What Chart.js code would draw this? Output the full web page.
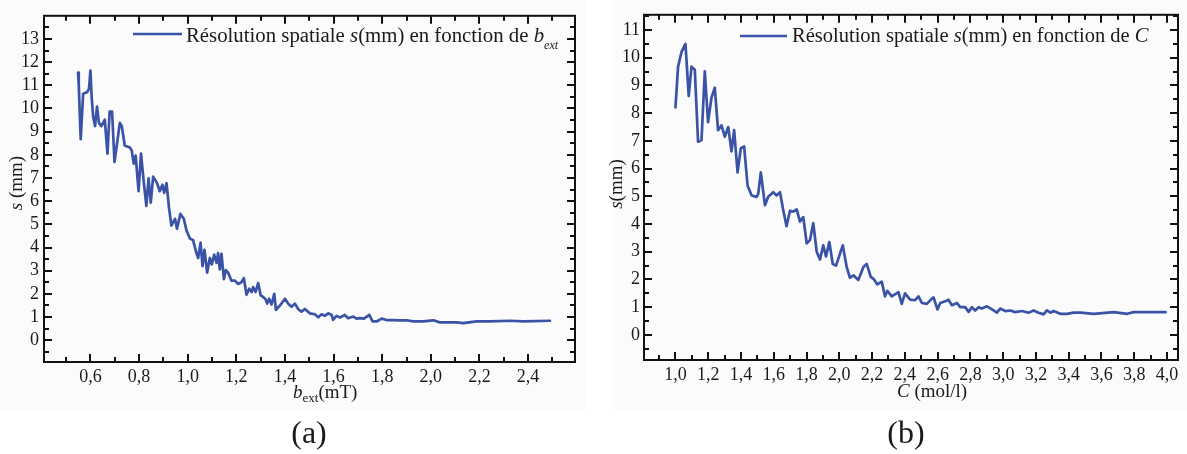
<!DOCTYPE html>
<html><head><meta charset="utf-8">
<script src="https://cdn.jsdelivr.net/npm/chart.js@4.4.0/dist/chart.umd.min.js"></script>
<style>
html,body{margin:0;padding:0;background:#fff;width:1187px;height:454px;overflow:hidden;}
.panel{position:absolute;top:0;}
#pa{left:0;width:590px;height:454px;}
#pb{left:590px;width:597px;height:454px;}
.bg{position:absolute;background:#fbfbfb;}
</style></head><body>
<div class="bg" style="left:0;top:0;width:585px;height:410px"></div>
<div class="bg" style="left:612px;top:0;width:575px;height:410px"></div>
<div class="panel" id="pa"><canvas id="ca" width="590" height="454"></canvas></div>
<div class="panel" id="pb"><canvas id="cb" width="597" height="454"></canvas></div>
<script>
// ---- data (a): s(mm) vs b_ext (mT)
const bext = [0.549,0.552,0.556,0.560,0.570,0.586,0.594,0.600,0.605,0.611,
0.619,0.627,0.635,0.645,0.659,0.670,0.679,0.689,0.699,0.721,
0.729,0.741,0.762,0.770,0.778,0.786,0.798,0.808,0.819,0.830,
0.839,0.848,0.858,0.874,0.885,0.896,0.903,0.913,0.923,0.933,
0.948,0.956,0.970,0.984,0.995,1.009,1.022,1.036,1.043,1.053,
1.061,1.069,1.080,1.091,1.099,1.109,1.119,1.125,1.132,1.139,
1.149,1.157,1.166,1.180,1.194,1.207,1.221,1.231,1.242,1.253,
1.263,1.269,1.279,1.290,1.300,1.310,1.320,1.327,1.335,1.345,
1.356,1.363,1.379,1.400,1.413,1.427,1.441,1.454,1.468,1.482,
1.502,1.523,1.537,1.551,1.564,1.578,1.592,1.598,1.612,1.626,
1.646,1.660,1.681,1.695,1.708,1.725,1.747,1.760,1.777,1.798,
1.818,1.844,1.873,1.900,1.928,1.969,2.010,2.037,2.106,2.133,
2.188,2.243,2.326,2.380,2.490];
const sA = [11.55,11.0,9.8,8.68,10.64,10.7,10.85,11.63,10.5,9.66,
9.24,10.08,9.38,9.24,9.52,8.05,9.87,9.87,7.69,9.38,
9.24,8.4,8.32,8.18,7.62,7.97,6.43,8.05,6.85,5.8,
6.99,5.94,7.06,6.78,6.43,6.71,6.36,6.78,5.73,4.95,
5.24,4.81,5.45,5.24,4.74,4.39,4.32,3.76,3.55,4.21,
3.2,3.9,2.92,3.55,3.27,3.69,3.34,3.76,3.06,3.73,
2.64,3.03,2.92,2.57,2.57,2.43,2.5,2.68,1.96,2.22,
2.08,2.29,2.08,2.47,1.94,1.87,1.77,1.58,1.79,1.54,
2.0,1.31,1.49,1.79,1.58,1.44,1.58,1.35,1.23,1.35,
1.16,1.12,0.99,1.12,1.05,1.16,1.09,0.88,1.05,0.98,
1.09,0.95,1.02,0.93,0.95,0.93,1.09,0.81,0.81,0.93,
0.87,0.87,0.86,0.86,0.81,0.81,0.86,0.77,0.77,0.74,
0.81,0.81,0.84,0.81,0.84];
// ---- data (b): s(mm) vs C (mol/l)
const conc = [1.000,1.016,1.037,1.061,1.081,1.098,1.118,1.138,1.159,1.179,
1.199,1.220,1.240,1.260,1.281,1.301,1.322,1.342,1.358,1.379,
1.399,1.419,1.440,1.465,1.495,1.505,1.521,1.546,1.566,1.597,
1.617,1.638,1.658,1.678,1.699,1.719,1.740,1.760,1.780,1.801,
1.821,1.841,1.862,1.882,1.902,1.919,1.939,1.960,1.980,2.021,
2.045,2.065,2.086,2.116,2.147,2.167,2.192,2.212,2.232,2.259,
2.279,2.293,2.320,2.361,2.381,2.401,2.432,2.463,2.483,2.504,
2.534,2.565,2.575,2.599,2.616,2.646,2.666,2.687,2.718,2.738,
2.768,2.789,2.809,2.829,2.850,2.870,2.901,2.932,2.962,2.982,
3.013,3.043,3.074,3.115,3.155,3.186,3.216,3.247,3.267,3.288,
3.308,3.349,3.390,3.430,3.471,3.553,3.675,3.757,3.797,3.879,
3.991];
const sB = [8.21,9.68,10.21,10.5,8.62,9.68,9.57,6.97,7.03,9.51,
7.68,8.56,8.92,7.39,7.56,7.15,7.5,6.62,7.39,5.86,
6.74,6.8,5.39,5.03,4.98,5.09,5.86,4.68,4.98,5.15,
5.03,5.15,4.5,3.92,4.48,4.45,4.53,4.09,4.25,3.3,
3.42,4.03,3.0,2.72,3.23,2.83,3.35,2.56,2.5,3.23,
2.45,2.06,2.15,1.98,2.45,2.56,2.09,2.0,1.82,1.92,
1.39,1.59,1.39,1.54,1.12,1.5,1.27,1.25,1.39,1.15,
1.12,1.31,1.35,0.92,1.15,1.21,1.27,1.07,1.15,1.0,
1.0,0.83,1.0,0.88,1.0,0.95,1.03,0.92,0.8,0.95,
0.86,0.88,0.82,0.86,0.8,0.88,0.8,0.74,0.88,0.8,
0.86,0.76,0.76,0.8,0.8,0.76,0.82,0.76,0.82,0.82,
0.82];
// ---- tick labels
const xTicksA = [0.6,0.8,1.0,1.2,1.4,1.6,1.8,2.0,2.2,2.4];
const yTicksA = [0,1,2,3,4,5,6,7,8,9,10,11,12,13];
const xTicksB = [1.0,1.2,1.4,1.6,1.8,2.0,2.2,2.4,2.6,2.8,3.0,3.2,3.4,3.6,3.8,4.0];
const yTicksB = [0,1,2,3,4,5,6,7,8,9,10,11];

const SERIF = '"Liberation Serif","Times New Roman",serif';
const TXT = '#1a1a1a';
const BLUE = '#3a53a6';

function fontOf(p){ return (p.i ? 'italic ' : '') + (p.s || 19) + 'px ' + SERIF; }
function rich(ctx, parts, x, y, align){
  let w = 0;
  parts.forEach(p => { ctx.font = fontOf(p); w += ctx.measureText(p.t).width; });
  let cx = align === 'center' ? x - w/2 : x;
  parts.forEach(p => { ctx.font = fontOf(p); ctx.fillText(p.t, cx, y + (p.dy || 0)); cx += ctx.measureText(p.t).width; });
}

function decor(cfg){
  return {
    id: 'decor' + cfg.id,
    afterDraw(chart){
      const ctx = chart.ctx, a = chart.chartArea, xs = chart.scales.x, ys = chart.scales.y;
      ctx.save();
      ctx.strokeStyle = '#111'; ctx.lineWidth = 2; ctx.lineCap = 'butt';
      ctx.strokeRect(a.left, a.top, a.right - a.left, a.bottom - a.top);
      const tickSet = (scale, majors, horiz) => {
        const half = (majors[1] - majors[0]) / 2;
        for (let i = -4; i <= majors.length * 2 + 4; i++){
          const v = majors[0] + i * half;
          if (v < scale.min + 1e-6 || v > scale.max - 1e-6) continue;
          const major = (i % 2 === 0);
          const len = major ? 8 : 5;
          const p = Math.round(scale.getPixelForValue(v));
          ctx.beginPath();
          if (horiz){
            ctx.moveTo(p, a.bottom); ctx.lineTo(p, a.bottom - len);
            ctx.moveTo(p, a.top); ctx.lineTo(p, a.top + len);
          } else {
            ctx.moveTo(a.left, p); ctx.lineTo(a.left + len, p);
            ctx.moveTo(a.right, p); ctx.lineTo(a.right - len, p);
          }
          ctx.stroke();
        }
      };
      tickSet(xs, cfg.xt, true);
      tickSet(ys, cfg.yt, false);
      // legend
      ctx.strokeStyle = BLUE; ctx.lineWidth = 2.6;
      ctx.beginPath(); ctx.moveTo(cfg.leg[0], cfg.leg[2]); ctx.lineTo(cfg.leg[1], cfg.leg[2]); ctx.stroke();
      ctx.fillStyle = TXT; ctx.textBaseline = 'alphabetic'; ctx.textAlign = 'left';
      rich(ctx, cfg.legParts, cfg.legText[0], cfg.legText[1], 'left');
      // x title
      rich(ctx, cfg.xTitle, cfg.xTitlePos[0], cfg.xTitlePos[1], 'left');
      // y title
      ctx.save();
      ctx.translate(cfg.yTitlePos[0], cfg.yTitlePos[1]);
      ctx.rotate(-Math.PI/2);
      rich(ctx, cfg.yTitle, 0, 0, 'center');
      ctx.restore();
      // caption
      rich(ctx, [{t: cfg.caption, s: 32}], cfg.capPos[0], cfg.capPos[1], 'center');
      ctx.restore();
    }
  };
}

function makeChart(el, xs, ys, label, o){
  return new Chart(document.getElementById(el), {
    type: 'line',
    data: { datasets: [{ label: label, data: xs.map((v, i) => ({x: v, y: ys[i]})),
      borderColor: BLUE, borderWidth: 2.7, pointRadius: 0, tension: 0, fill: false,
      borderJoinStyle: 'round', borderCapStyle: 'round' }] },
    options: {
      responsive: false, animation: false, devicePixelRatio: 1,
      layout: { padding: o.pad },
      plugins: { legend: { display: false }, tooltip: { enabled: false } },
      scales: {
        x: { type: 'linear', min: o.xmin, max: o.xmax,
          grid: { display: false, drawTicks: false }, border: { display: false },
          afterBuildTicks: s => { s.ticks = o.xt.map(v => ({value: v})); },
          afterFit: s => { s.height = 40; },
          ticks: { autoSkip: false, maxRotation: 0, padding: 4, color: TXT,
            font: { family: SERIF, size: 18 },
            callback: v => Number(v).toFixed(1).replace('.', ',') } },
        y: { type: 'linear', min: o.ymin, max: o.ymax,
          grid: { display: false, drawTicks: false }, border: { display: false },
          afterBuildTicks: s => { s.ticks = o.yt.map(v => ({value: v})); },
          afterFit: s => { s.width = o.yw; },
          ticks: { autoSkip: false, padding: o.ypad, color: TXT,
            font: { family: SERIF, size: 18 },
            callback: v => String(v) } }
      }
    },
    plugins: [decor(o)]
  });
}

makeChart('ca', bext, sA, 'Résolution spatiale s(mm) en fonction de b_ext', {
  id: 'a', pad: {top: 7, right: 15, bottom: 52, left: 0},
  xmin: 0.409, xmax: 2.593, ymin: -0.94, ymax: 14.0, yw: 44, ypad: 5,
  xt: xTicksA, yt: yTicksA,
  leg: [133, 182, 34], legText: [186, 42],
  legParts: [{t: 'Résolution spatiale ', s: 20.8}, {t: 's', i: 1, s: 20.8}, {t: '(mm) en fonction de ', s: 20.8},
             {t: 'b', i: 1, s: 20.8}, {t: 'ext', i: 1, s: 12, dy: 7}],
  xTitle: [{t: 'b', i: 1}, {t: 'ext', s: 13, dy: 4}, {t: '(mT)'}], xTitlePos: [293, 398],
  yTitle: [{t: 's', i: 1}, {t: ' (mm)'}], yTitlePos: [22, 183],
  caption: '(a)', capPos: [309, 443]
});
makeChart('cb', conc, sB, 'Résolution spatiale s(mm) en fonction de C', {
  id: 'b', pad: {top: 7, right: 9, bottom: 54, left: 0},
  xmin: 0.808, xmax: 4.067, ymin: -0.907, ymax: 11.55, yw: 54, ypad: 4,
  xt: xTicksB, yt: yTicksB,
  leg: [150, 197, 36], legText: [202, 42],
  legParts: [{t: 'Résolution spatiale ', s: 20.5}, {t: 's', i: 1, s: 20.5}, {t: '(mm) en fonction de ', s: 20.5},
             {t: 'C', i: 1, s: 20.5}],
  xTitle: [{t: 'C', i: 1}, {t: ' (mol/l)'}], xTitlePos: [307, 397],
  yTitle: [{t: 's', i: 1}, {t: '(mm)'}], yTitlePos: [32, 184],
  caption: '(b)', capPos: [316, 443]
});
</script>
</body></html>
